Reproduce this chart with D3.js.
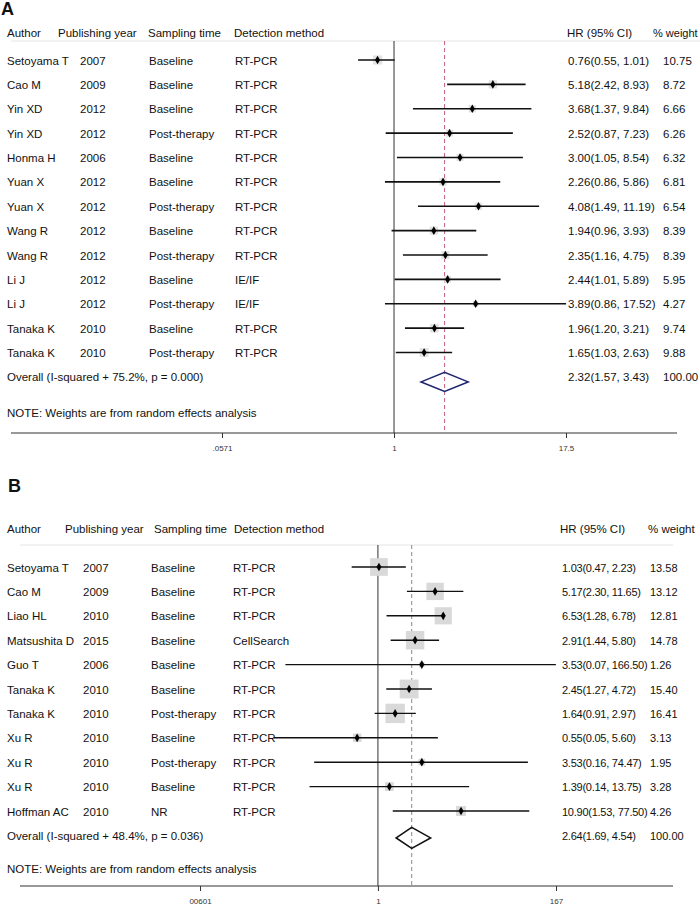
<!DOCTYPE html>
<html><head><meta charset="utf-8">
<script src="https://cdn.jsdelivr.net/npm/d3@7"></script>
<style>
body{margin:0;background:#fff;}
svg{display:block;font-family:"Liberation Sans",Arial,sans-serif;}
</style></head>
<body><svg id="c" width="700" height="909"></svg>
<script>
// ---------- Panel A data ----------
const authorsA = ["Setoyama T","Cao M","Yin XD","Yin XD","Honma H","Yuan X","Yuan X","Wang R","Wang R","Li J","Li J","Tanaka K","Tanaka K"];
const yearsA = ["2007","2009","2012","2012","2006","2012","2012","2012","2012","2012","2012","2010","2010"];
const samplingA = ["Baseline","Baseline","Baseline","Post-therapy","Baseline","Baseline","Post-therapy","Baseline","Post-therapy","Baseline","Post-therapy","Baseline","Post-therapy"];
const methodA = ["RT-PCR","RT-PCR","RT-PCR","RT-PCR","RT-PCR","RT-PCR","RT-PCR","RT-PCR","RT-PCR","IE/IF","IE/IF","RT-PCR","RT-PCR"];
const hrA = [0.76,5.18,3.68,2.52,3.00,2.26,4.08,1.94,2.35,2.44,3.89,1.96,1.65];
const loA = [0.55,2.42,1.37,0.87,1.05,0.86,1.49,0.96,1.16,1.01,0.86,1.20,1.03];
const hiA = [1.01,8.93,9.84,7.23,8.54,5.86,11.19,3.93,4.75,5.89,17.52,3.21,2.63];
const weightA = [10.75,8.72,6.66,6.26,6.32,6.81,6.54,8.39,8.39,5.95,4.27,9.74,9.88];
const overallA = {label:"Overall (I-squared + 75.2%, p = 0.000)", hr:2.32, lo:1.57, hi:3.43, w:100.00};
const ticksA = [0.0571, 1, 17.5];
const tickLabelsA = [".0571","1","17.5"];

// ---------- Panel B data ----------
const authorsB = ["Setoyama T","Cao M","Liao HL","Matsushita D","Guo T","Tanaka K","Tanaka K","Xu R","Xu R","Xu R","Hoffman AC"];
const yearsB = ["2007","2009","2010","2015","2006","2010","2010","2010","2010","2010","2010"];
const samplingB = ["Baseline","Baseline","Baseline","Baseline","Baseline","Baseline","Post-therapy","Baseline","Post-therapy","Baseline","NR"];
const methodB = ["RT-PCR","RT-PCR","RT-PCR","CellSearch","RT-PCR","RT-PCR","RT-PCR","RT-PCR","RT-PCR","RT-PCR","RT-PCR"];
const hrB = [1.03,5.17,6.53,2.91,3.53,2.45,1.64,0.55,3.53,1.39,10.90];
const loB = [0.47,2.30,1.28,1.44,0.07,1.27,0.91,0.05,0.16,0.14,1.53];
const hiB = [2.23,11.65,6.78,5.80,166.50,4.72,2.97,5.60,74.47,13.75,77.50];
const weightB = [13.58,13.12,12.81,14.78,1.26,15.40,16.41,3.13,1.95,3.28,4.26];
const overallB = {label:"Overall (I-squared + 48.4%, p = 0.036)", hr:2.64, lo:1.69, hi:4.54, w:100.00};
const ticksB = [0.00601, 1, 167];
const tickLabelsB = ["00601","1","167"];

const headers = ["Author","Publishing year","Sampling time","Detection method"];
const noteText = "NOTE: Weights are from random effects analysis";

const svg = d3.select("#c");
const FS = 11.5;

function drawPanel(p){
  const g = svg.append("g");
  const n = p.authors.length;
  const y = d3.scaleLinear().domain([0, n-1]).range([p.rowTop, p.rowBottom]);
  const x = d3.scaleLog().domain([p.ticks[0], p.ticks[2]]).range([p.tickLeft, p.tickRight]);
  const overallY = y(n);

  g.append("text").attr("x", p.letterX).attr("y", p.letterY).attr("font-size", 18).attr("font-weight","bold").attr("fill","#111").text(p.letter);

  p.headerX.forEach((hx,i)=>{
    g.append("text").attr("x",hx).attr("y",p.headerY).attr("font-size",FS).attr("fill","#111").text(headers[i]);
  });
  g.append("text").attr("x",p.hrHeadX).attr("y",p.headerY).attr("font-size",FS).attr("fill","#111").text("HR (95% CI)");
  g.append("text").attr("x",p.wHeadX).attr("y",p.headerY).attr("font-size",p.wHeadFS).attr("fill","#111").text("% weight");

  g.append("line").attr("x1",p.lineLeft).attr("x2",p.ruleRight).attr("y1",p.ruleY).attr("y2",p.ruleY).attr("stroke","#e4e4e4").attr("stroke-width",1);

  g.append("line").attr("x1",x(1)).attr("x2",x(1)).attr("y1",p.ruleY).attr("y2",p.axisY).attr("stroke","#333").attr("stroke-width",1);
  g.append("line").attr("x1",x(p.overall.hr)).attr("x2",x(p.overall.hr)).attr("y1",p.ruleY).attr("y2",p.axisY)
    .attr("stroke",p.dashColor).attr("stroke-width",1).attr("stroke-dasharray","4,3");

  const rows = d3.range(n).map(i=>({i, a:p.authors[i], yr:p.years[i], s:p.sampling[i], m:p.methods[i], hr:p.hr[i], lo:p.lo[i], hi:p.hi[i], w:p.weights[i]}));
  const rg = g.selectAll("g.row").data(rows).join("g");
  const tcols = [["a",p.colX[0]],["yr",p.colX[1]],["s",p.colX[2]],["m",p.colX[3]]];
  tcols.forEach(([k,cx])=>{
    rg.append("text").attr("x",cx).attr("y",d=>y(d.i)+4.5).attr("font-size",FS).attr("fill","#111").text(d=>d[k]);
  });
  rg.append("rect")
    .attr("x",d=>x(d.hr)-p.sq*Math.sqrt(d.w)/2).attr("y",d=>y(d.i)-p.sq*Math.sqrt(d.w)/2)
    .attr("width",d=>p.sq*Math.sqrt(d.w)).attr("height",d=>p.sq*Math.sqrt(d.w))
    .attr("fill",p.sqColor);
  rg.append("line").attr("x1",d=>x(d.lo)).attr("x2",d=>x(d.hi)).attr("y1",d=>y(d.i)).attr("y2",d=>y(d.i))
    .attr("stroke","#111").attr("stroke-width",p.ciWidth);
  rg.append("path").attr("d",d3.symbol(d3.symbolDiamond,22)).attr("transform",d=>`translate(${x(d.hr)},${y(d.i)})`).attr("fill","#000");
  rg.append("text").attr("x",p.hrX).attr("y",d=>y(d.i)+4.5).attr("font-size",p.numFS).attr("letter-spacing",p.numLS).attr("fill","#111")
    .text(d=>`${d.hr.toFixed(2)}(${d.lo.toFixed(2)}, ${d.hi.toFixed(2)})`);
  rg.append("text").attr("x",p.wX).attr("y",d=>y(d.i)+4.5).attr("font-size",p.numFS).attr("fill","#111").text(d=>d.w.toFixed(2));

  const o = p.overall;
  g.append("text").attr("x",p.colX[0]).attr("y",overallY+4.5).attr("font-size",FS).attr("fill","#111").text(o.label);
  const dy = overallY + p.diamondOffset;
  g.append("path").attr("d",`M${x(o.lo)},${dy} L${x(o.hr)},${dy-p.diamondH} L${x(o.hi)},${dy} L${x(o.hr)},${dy+p.diamondH} Z`)
    .attr("fill","none").attr("stroke",p.diamondColor).attr("stroke-width",1.6);
  g.append("text").attr("x",p.hrX).attr("y",overallY+4.5).attr("font-size",p.numFS).attr("letter-spacing",p.numLS).attr("fill","#111")
    .text(`${o.hr.toFixed(2)}(${o.lo.toFixed(2)}, ${o.hi.toFixed(2)})`);
  g.append("text").attr("x",p.wX).attr("y",overallY+4.5).attr("font-size",p.numFS).attr("fill","#111").text(o.w.toFixed(2));

  g.append("text").attr("x",p.colX[0]).attr("y",p.noteY).attr("font-size",FS).attr("fill","#111").text(noteText);

  g.append("line").attr("x1",p.lineLeft).attr("x2",p.axisRight).attr("y1",p.axisY).attr("y2",p.axisY).attr("stroke","#333").attr("stroke-width",1);
  const ax = d3.axisBottom(x).tickValues(p.ticks).tickSize(5).tickSizeOuter(0)
    .tickFormat((d,i)=>p.tickLabels[i]);
  const axg = g.append("g").attr("transform",`translate(0,${p.axisY})`).call(ax);
  axg.select(".domain").remove();
  axg.selectAll(".tick line").attr("stroke","#333");
  axg.selectAll(".tick text").attr("font-size",8).attr("fill","#333").attr("font-family","Liberation Sans, Arial, sans-serif").attr("dy","1.2em");
}

drawPanel({
  letter:"A", letterX:1, letterY:15,
  authors:authorsA, years:yearsA, sampling:samplingA, methods:methodA, hr:hrA, lo:loA, hi:hiA, weights:weightA, overall:overallA,
  ticks:ticksA, tickLabels:tickLabelsA,
  rowTop:60, rowBottom:352.5,
  headerY:37, headerX:[7,58,148,234], hrHeadX:567, wHeadX:653, wHeadFS:11,
  colX:[7,80,149,235], hrX:568, wX:663, numFS:11.5, numLS:0,
  ruleY:41, lineLeft:11, ruleRight:700, axisRight:677, axisY:433,
  tickLeft:222, tickRight:566, noteY:417,
  dashColor:"#c0607a", diamondColor:"#1f2670", diamondOffset:5, diamondH:9.5,
  sq:2.8, sqColor:"#e2e2e2", ciWidth:1.6
});

drawPanel({
  letter:"B", letterX:8, letterY:492,
  authors:authorsB, years:yearsB, sampling:samplingB, methods:methodB, hr:hrB, lo:loB, hi:hiB, weights:weightB, overall:overallB,
  ticks:ticksB, tickLabels:tickLabelsB,
  rowTop:567, rowBottom:811,
  headerY:533, headerX:[7,65,154,234], hrHeadX:560, wHeadX:648, wHeadFS:11.5,
  colX:[7,83,151,233], hrX:562, wX:650, numFS:11, numLS:-0.25,
  ruleY:545, lineLeft:20, ruleRight:673, axisRight:673, axisY:886,
  tickLeft:200, tickRight:556, noteY:873,
  dashColor:"#888", diamondColor:"#111", diamondOffset:2.5, diamondH:10.5,
  sq:4.8, sqColor:"#d9d9d9", ciWidth:1.4
});
</script></body></html>
